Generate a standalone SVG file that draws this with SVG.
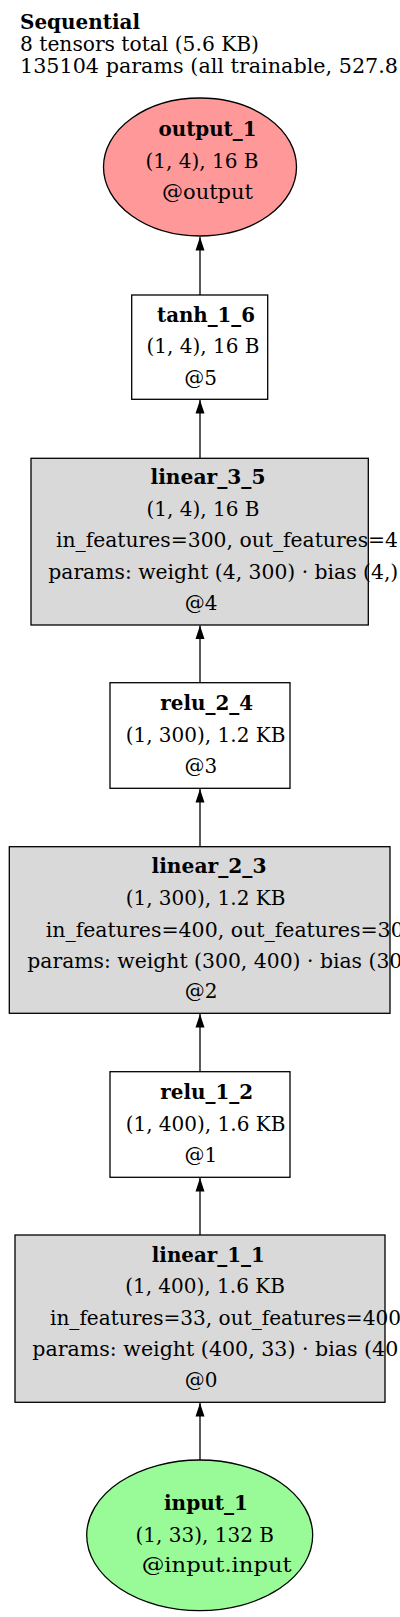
<svg xmlns="http://www.w3.org/2000/svg" width="400" height="1617" viewBox="0 0 400 1617">
<defs>
<style>
text{font-family:"DejaVu Serif","Liberation Serif",serif;font-size:20px;fill:#000}
.b{font-weight:bold}
.m{text-anchor:middle}
.box{fill:#fff;stroke:#000;stroke-width:1.3}
.lin{fill:#d9d9d9;stroke:#000;stroke-width:1.3}
.out{fill:#ff9999;stroke:#000;stroke-width:1.3}
.inp{fill:#98fb98;stroke:#000;stroke-width:1.3}
.edge{stroke:#000;stroke-width:1.3;fill:none}
</style>
<marker id="ah" markerUnits="userSpaceOnUse" markerWidth="10" markerHeight="14" refX="5" refY="0" orient="0" viewBox="0 0 10 14">
<path d="M5,0 L9.5,13.5 L0.5,13.5 Z" fill="#000"/>
</marker>
</defs>
<rect width="400" height="1617" fill="#fff"/>
<g id="header">
<text class="b" x="20" y="28.5" textLength="120" lengthAdjust="spacingAndGlyphs">Sequential</text>
<text x="20" y="50.5" textLength="239" lengthAdjust="spacingAndGlyphs">8 tensors total (5.6 KB)</text>
<text x="20" y="72.5" textLength="378" lengthAdjust="spacingAndGlyphs">135104 params (all trainable, 527.8</text>
</g>
<g id="connectors">
<line class="edge" x1="200" y1="295" x2="200" y2="237" marker-end="url(#ah)"/>
<line class="edge" x1="200" y1="458.3" x2="200" y2="400" marker-end="url(#ah)"/>
<line class="edge" x1="200" y1="682.7" x2="200" y2="625.5" marker-end="url(#ah)"/>
<line class="edge" x1="200" y1="846.7" x2="200" y2="789" marker-end="url(#ah)"/>
<line class="edge" x1="200" y1="1071.7" x2="200" y2="1014" marker-end="url(#ah)"/>
<line class="edge" x1="200" y1="1235" x2="200" y2="1178" marker-end="url(#ah)"/>
<line class="edge" x1="200" y1="1460" x2="200" y2="1403" marker-end="url(#ah)"/>
</g>
<g id="output_1">
<ellipse class="out" cx="200" cy="167" rx="96.5" ry="69"/>
<text class="b m" x="207.5" y="136" textLength="98" lengthAdjust="spacingAndGlyphs">output_1</text>
<text class="m" x="202" y="168">(1, 4), 16 B</text>
<text class="m" x="207.5" y="199" textLength="91" lengthAdjust="spacingAndGlyphs">@output</text>
</g>
<g id="tanh_1_6">
<rect class="box" x="131.7" y="295" width="136" height="104.3"/>
<text class="b m" x="206" y="321.7" textLength="98" lengthAdjust="spacingAndGlyphs">tanh_1_6</text>
<text class="m" x="203" y="353">(1, 4), 16 B</text>
<text class="m" x="200.5" y="385">@5</text>
</g>
<g id="linear_3_5">
<rect class="lin" x="31" y="458.3" width="337.3" height="166.7"/>
<text class="b m" x="208" y="484" textLength="115" lengthAdjust="spacingAndGlyphs">linear_3_5</text>
<text class="m" x="203" y="515.5">(1, 4), 16 B</text>
<text x="56" y="547" textLength="342" lengthAdjust="spacingAndGlyphs">in_features=300, out_features=4</text>
<text x="48.3" y="578.5" textLength="350" lengthAdjust="spacingAndGlyphs">params: weight (4, 300) · bias (4,)</text>
<text class="m" x="201" y="610">@4</text>
</g>
<g id="relu_2_4">
<rect class="box" x="110" y="682.7" width="180" height="105.6"/>
<text class="b m" x="206.7" y="710" textLength="93" lengthAdjust="spacingAndGlyphs">relu_2_4</text>
<text class="m" x="205.5" y="741.7">(1, 300), 1.2 KB</text>
<text class="m" x="200.8" y="773.3">@3</text>
</g>
<g id="linear_2_3">
<rect class="lin" x="9.3" y="846.7" width="380.7" height="166.6"/>
<text class="b m" x="209" y="873.3" textLength="115" lengthAdjust="spacingAndGlyphs">linear_2_3</text>
<text class="m" x="205.5" y="905">(1, 300), 1.2 KB</text>
<text x="45.7" y="936.7" textLength="358" lengthAdjust="spacingAndGlyphs">in_features=400, out_features=30</text>
<text x="27.3" y="967.5" textLength="375" lengthAdjust="spacingAndGlyphs">params: weight (300, 400) · bias (30</text>
<text class="m" x="201" y="998.3">@2</text>
</g>
<g id="relu_1_2">
<rect class="box" x="110" y="1071.7" width="180" height="105.6"/>
<text class="b m" x="206.7" y="1099.3" textLength="93" lengthAdjust="spacingAndGlyphs">relu_1_2</text>
<text class="m" x="205.5" y="1130.7">(1, 400), 1.6 KB</text>
<text class="m" x="200.8" y="1161.7">@1</text>
</g>
<g id="linear_1_1">
<rect class="lin" x="15" y="1235" width="370" height="167.3"/>
<text class="b m" x="208.3" y="1261.7" textLength="113" lengthAdjust="spacingAndGlyphs">linear_1_1</text>
<text class="m" x="205" y="1293.3">(1, 400), 1.6 KB</text>
<text x="50" y="1325" textLength="351" lengthAdjust="spacingAndGlyphs">in_features=33, out_features=400</text>
<text x="32.3" y="1355.5" textLength="366" lengthAdjust="spacingAndGlyphs">params: weight (400, 33) · bias (40</text>
<text class="m" x="201" y="1386.7">@0</text>
</g>
<g id="input_1">
<ellipse class="inp" cx="199.7" cy="1535.3" rx="113" ry="75.3"/>
<text class="b m" x="206" y="1510" textLength="84" lengthAdjust="spacingAndGlyphs">input_1</text>
<text class="m" x="204.7" y="1541.7">(1, 33), 132 B</text>
<text class="m" x="216.7" y="1571.7" textLength="150" lengthAdjust="spacingAndGlyphs">@input.input</text>
</g>
</svg>
